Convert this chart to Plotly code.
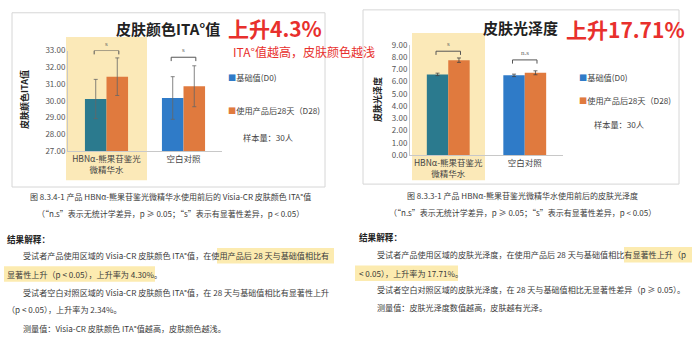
import plotly.graph_objects as go

# ---------------- data ----------------
categories = ["HBNα-熊果苷鉴光<br>微精华水", "空白对照"]
series_names = ["基础值(D0)", "使用产品后28天（D28)"]

ita_d0 = [30.11, 30.17]
ita_d0_err = [1.17, 1.27]
ita_d28 = [31.44, 30.87]
ita_d28_err = [1.12, 1.22]
ita_sig = ["s", "s"]
ita_bracket_y = [33.0, 32.6]

gloss_d0 = [6.58, 6.50]
gloss_d0_err = [0.10, 0.10]
gloss_d28 = [7.74, 6.71]
gloss_d28_err = [0.18, 0.16]
gloss_sig = ["s", "n.s"]
gloss_bracket_y = [8.47, 7.76]

ita_ticks = [27, 28, 29, 30, 31, 32, 33]
gloss_ticks = [0, 1, 2, 3, 4, 5, 6, 7, 8, 9]

# ---------------- styles ----------------
W, H = 700, 343
TEAL = "#2b7a8e"
BLUE = "#2f7bc8"
ORANGE = "#e07a3e"
HIL = "#fbe9b8"
RED = "#e8302c"
FONT = "Noto Sans CJK SC"
TXT = "#3a3a3a"
BODY = 8.1


def X(p):
    return p / W


def Y(p):
    return 1 - p / H


fig = go.Figure()

# bars left
fig.add_trace(go.Bar(x=categories, y=ita_d0, name=series_names[0],
                     marker=dict(color=[TEAL, BLUE], line=dict(width=0)),
                     error_y=dict(type="data", array=ita_d0_err, color="#666", thickness=0.8, width=2),
                     xaxis="x", yaxis="y", showlegend=False))
fig.add_trace(go.Bar(x=categories, y=ita_d28, name=series_names[1],
                     marker=dict(color=ORANGE, line=dict(width=0)),
                     error_y=dict(type="data", array=ita_d28_err, color="#666", thickness=0.8, width=2),
                     xaxis="x", yaxis="y", showlegend=False))
# bars right
fig.add_trace(go.Bar(x=categories, y=gloss_d0, name=series_names[0],
                     marker=dict(color=[TEAL, BLUE], line=dict(width=0)),
                     error_y=dict(type="data", array=gloss_d0_err, color="#444", thickness=0.8, width=2),
                     xaxis="x2", yaxis="y2", showlegend=False))
fig.add_trace(go.Bar(x=categories, y=gloss_d28, name=series_names[1],
                     marker=dict(color=ORANGE, line=dict(width=0)),
                     error_y=dict(type="data", array=gloss_d28_err, color="#444", thickness=0.8, width=2),
                     xaxis="x2", yaxis="y2", showlegend=False))

shapes = []
ann = []

# outer boxes
shapes.append(dict(type="rect", xref="paper", yref="paper", x0=X(12), x1=X(325), y0=Y(187), y1=Y(7),
                   line=dict(color="#d6d6d6", width=1), fillcolor="rgba(0,0,0,0)", layer="below"))
shapes.append(dict(type="rect", xref="paper", yref="paper", x0=X(363), x1=X(679), y0=Y(184), y1=Y(4),
                   line=dict(color="#d6d6d6", width=1), fillcolor="rgba(0,0,0,0)", layer="below"))
# yellow highlight columns
shapes.append(dict(type="rect", xref="paper", yref="paper", x0=X(66), x1=X(147), y0=Y(180), y1=Y(32),
                   line=dict(width=0), fillcolor=HIL, layer="below"))
shapes.append(dict(type="rect", xref="paper", yref="paper", x0=X(412), x1=X(485), y0=Y(180), y1=Y(28),
                   line=dict(width=0), fillcolor=HIL, layer="below"))
# text highlights
for (a, b, c) in [(217, 334, 258), (4, 155, 277), (624, 692, 257), (355, 458, 276)]:
    shapes.append(dict(type="rect", xref="paper", yref="paper", x0=X(a), x1=X(b), y0=Y(c + 8), y1=Y(c - 8),
                       line=dict(width=0), fillcolor="#fcebb0", layer="below"))

# significance brackets
for i in range(2):
    for (xr, yr, yb, lab, tick) in [("x", "y", ita_bracket_y[i], ita_sig[i], 0.23),
                                    ("x2", "y2", gloss_bracket_y[i], gloss_sig[i], 0.3)]:
        x0, x1 = i - 0.16, i + 0.16
        shapes.append(dict(type="path", xref=xr, yref=yr,
                           path=f"M {x0},{yb - tick} L {x0},{yb} L {x1},{yb} L {x1},{yb - tick}",
                           line=dict(color="#555", width=1)))
        ann.append(dict(x=i, y=yb, xref=xr, yref=yr, text=lab, showarrow=False, yanchor="bottom",
                        yshift=1, font=dict(size=7, color="#666", family="Liberation Serif")))


def text(x, y, s, size=9, color=TXT, anchor="left", bold=False, angle=0, family=FONT):
    ann.append(dict(x=X(x), y=Y(y), xref="paper", yref="paper", text=(f"<b>{s}</b>" if bold else s),
                    showarrow=False, xanchor=anchor, yanchor="middle", textangle=angle,
                    font=dict(size=size, color=color, family=family)))


# titles
text(168, 23, "皮肤颜色ITA°值", size=15, color="#222", anchor="center", bold=True)
text(226, 23, "上升4.3%", size=21, color=RED, bold=True)
text(231, 47, "ITA°值越高，皮肤颜色越浅", size=12, color=RED)
text(520, 22, "皮肤光泽度", size=15, color="#222", anchor="center", bold=True)
text(564, 24, "上升17.71%", size=21, color=RED, bold=True)

# y-axis titles
text(25, 97, "皮肤颜色ITA值", size=9, color="#222", anchor="center", bold=True, angle=-90)
text(378, 97, "皮肤光泽度", size=9, color="#222", anchor="center", bold=True, angle=-90)

# legends
for (lx, ys) in [(226, (73, 107, 135)), (577, (73, 97, 122))]:
    text(lx, ys[0], f"<span style='color:{BLUE}'>■</span>" + series_names[0], size=8.2, color="#444")
    text(lx, ys[1], f"<span style='color:{ORANGE}'>■</span>" + series_names[1], size=8.2, color="#444")
    text(lx + 15, ys[2], "样本量：30人", size=8.2, color="#444")

# captions
text(170, 197, "图 8.3.4-1 产品 HBNα-熊果苷鉴光微精华水使用前后的 Visia-CR 皮肤颜色 ITA°值", size=8, anchor="center")
text(170, 214, "（“n.s”表示无统计学差异，p ≥ 0.05；“s”表示有显著性差异，p < 0.05）", size=8, anchor="center")
text(522, 196, "图 8.3.3-1 产品 HBNα-熊果苷鉴光微精华水使用前后的皮肤光泽度", size=8, anchor="center")
text(522, 213, "（“n.s”表示无统计学差异，p ≥ 0.05；“s”表示有显著性差异，p < 0.05）", size=8, anchor="center")

# body text left
text(5, 241, "结果解释：", size=8.6, color="#222", bold=True)
text(21, 258, "受试者产品使用区域的 Visia-CR 皮肤颜色 ITA°值，在使用产品后 28 天与基础值相比有", size=BODY)
text(5, 277, "显著性上升（p < 0.05），上升率为 4.30%。", size=BODY)
text(21, 296, "受试者空白对照区域的 Visia-CR 皮肤颜色 ITA°值，在 28 天与基础值相比有显著性上升", size=BODY)
text(5, 314, "（p < 0.05），上升率为 2.34%。", size=BODY)
text(21, 333, "测量值：Visia-CR 皮肤颜色 ITA°值越高，皮肤颜色越浅。", size=BODY)

# body text right
text(357, 239, "结果解释：", size=8.6, color="#222", bold=True)
text(375, 257, "受试者产品使用区域的皮肤光泽度，在使用产品后 28 天与基础值相比有显著性上升（p", size=BODY)
text(357, 276, "< 0.05），上升率为 17.71%。", size=BODY)
text(375, 293, "受试者空白对照区域的皮肤光泽度，在 28 天与基础值相比无显著性差异（p ≥ 0.05）。", size=BODY)
text(375, 312, "测量值：皮肤光泽度数值越高，皮肤越有光泽。", size=BODY)

axis_common = dict(showgrid=False, zeroline=False, ticks="", showline=True, linecolor="#c8c8c8", linewidth=1)

fig.update_layout(
    width=W, height=H, margin=dict(l=0, r=0, t=0, b=0),
    paper_bgcolor="white", plot_bgcolor="rgba(0,0,0,0)",
    barmode="group", bargap=0.44, bargroupgap=0.0,
    font=dict(family=FONT, color="#444"),
    xaxis=dict(domain=[X(68), X(222)], anchor="y", tickfont=dict(size=8.5, color="#444"), **axis_common),
    yaxis=dict(domain=[Y(150), Y(46)], anchor="x", range=[27, 33], tickvals=ita_ticks, tickformat=".2f",
               tickfont=dict(size=8, color="#555"), **axis_common),
    xaxis2=dict(domain=[X(410), X(563)], anchor="y2", tickfont=dict(size=8.5, color="#444"), **axis_common),
    yaxis2=dict(domain=[Y(154), Y(40)], anchor="x2", range=[0, 9], tickvals=gloss_ticks, tickformat=".2f",
                tickfont=dict(size=8, color="#555"), **axis_common),
    shapes=shapes, annotations=ann,
)

fig.write_html("out.html")
